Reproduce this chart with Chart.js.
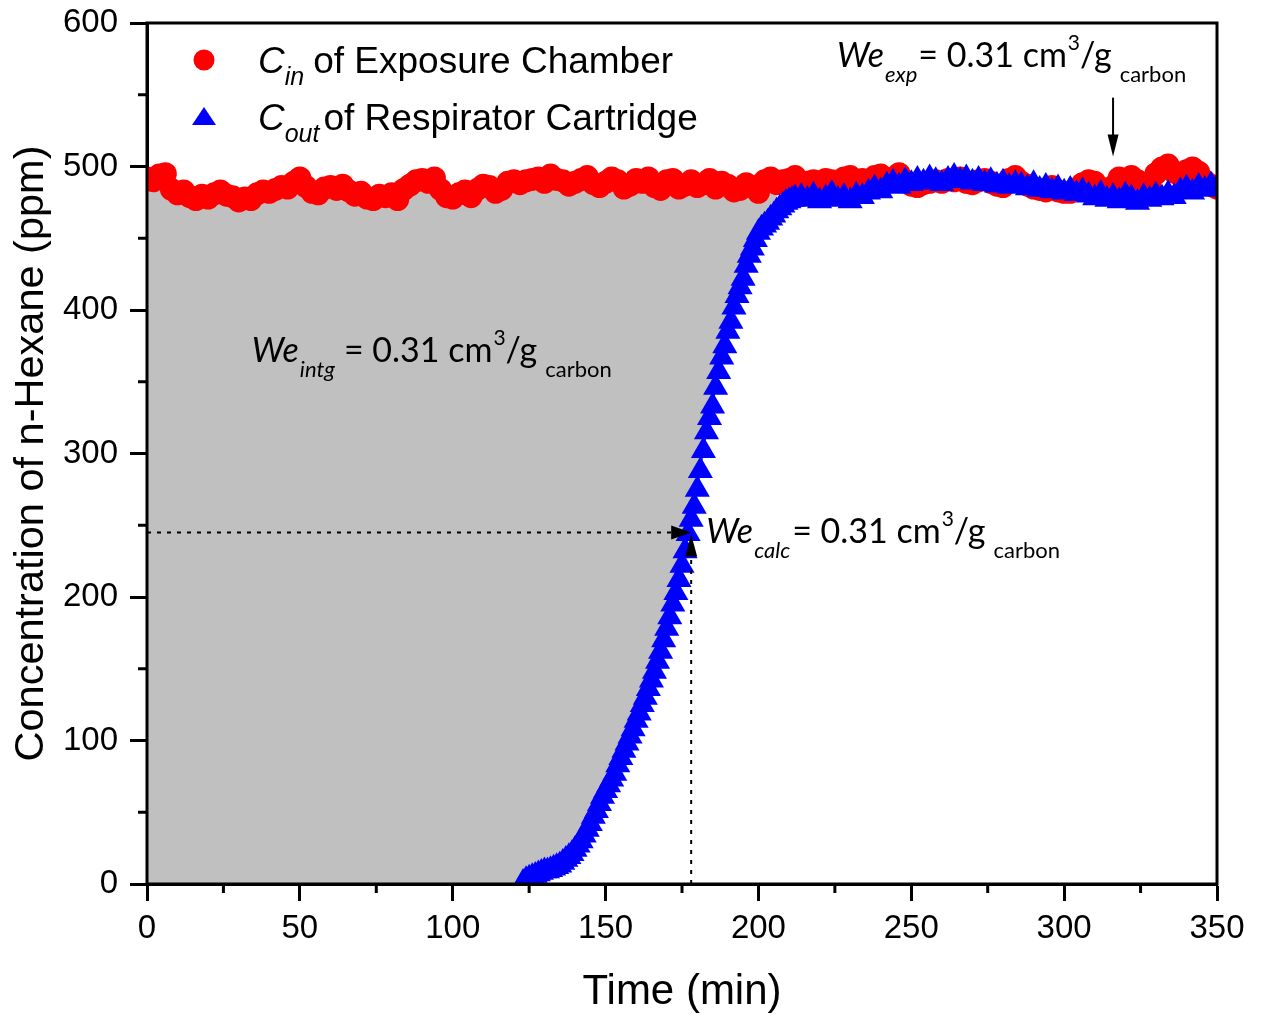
<!DOCTYPE html>
<html>
<head>
<meta charset="utf-8">
<script src="https://cdn.jsdelivr.net/npm/chart.js@4/dist/chart.umd.min.js"></script>
<style>
  html, body { margin: 0; padding: 0; background: #fff; }
  #wrap { width: 1262px; height: 1014px; }
</style>
</head>
<body>
<div id="wrap"><canvas id="c" width="1262" height="1014"></canvas></div>
<script>
// ---------------- DATA ----------------
// C_in of exposure chamber, sampled every 2 min from t = 0
const cinStart = 0, cinStep = 2;
const cinValues = [
  492, 490, 494, 495, 484, 481, 483, 479, 477, 480, 478,
  481, 483, 480, 479, 476, 478, 477, 481, 483, 482,
  484, 486, 485, 489, 492, 486, 482, 481, 485, 486,
  484, 487, 483, 480, 482, 478, 477, 480, 479, 481,
  477, 484, 487, 490, 491, 489, 492, 484, 479, 478,
  481, 483, 479, 484, 487, 486, 482, 484, 489, 490,
  488, 490, 491, 492, 489, 494, 491, 490, 487, 489,
  491, 493, 488, 486, 489, 492, 490, 485, 487, 491,
  489, 492, 486, 484, 490, 491, 485, 487, 490, 486,
  488, 491, 485, 489, 487, 483, 484, 488, 486, 482,
  490, 492, 488, 490, 491, 493, 487, 489, 490, 488,
  491, 490, 489, 492, 493, 490, 491, 489, 493, 494,
  491, 492, 495, 490, 487, 486, 488, 489, 490, 489,
  491, 490, 492, 489, 488, 490, 491, 489, 487, 486,
  491, 493, 489, 487, 485, 484, 483, 486, 483, 482,
  482, 484, 488, 490, 489, 485, 484, 486, 492, 491,
  493, 490, 487, 488, 495, 499, 501, 496, 494, 497,
  499, 496, 490, 487, 485
];
// C_out of respirator cartridge: breakthrough (1-min steps from 123 min)
const coutRiseStart = 123, coutRiseStep = 1;
const coutRise = [
  1, 3, 4, 5, 6, 7, 8, 9, 9, 10,
  11, 12, 13, 15, 17, 19, 21, 24, 27, 30,
  34, 38, 42, 47, 51, 56, 61, 65, 69, 73,
  77, 83, 88, 93, 98, 103, 108, 114, 119, 125,
  130, 136, 142, 148, 155, 162, 170, 178, 186, 195,
  203, 212, 222, 232, 244, 254, 263, 275, 288, 302,
  315, 325, 333, 346, 357, 367, 375, 385, 392, 402,
  410, 416, 422, 431, 438, 443, 449, 454, 457, 459,
  461, 464, 466, 469, 471, 473, 475, 476, 477, 478
];
// C_out plateau (2-min steps from 214 min)
const coutPlateauStart = 214, coutPlateauStep = 2;
const coutPlateau = [
  479, 477, 480, 476, 478, 481, 477, 479, 476, 480,
  479, 482, 485, 483, 487, 489, 486, 490, 488, 491,
  489, 492, 490, 488, 491, 493, 490, 492, 489, 491,
  488, 490, 487, 489, 486, 488, 487, 485, 488, 484,
  486, 483, 485, 482, 484, 481, 483, 480, 478, 481,
  477, 479, 476, 480, 478, 475, 479, 477, 480, 478,
  481, 479, 483, 485, 482, 486, 484, 487, 485
];
// shaded (integrated) area ends where C_out reaches C_in
const shadeEndTime = 206;
// calculated breakthrough point and experimental marker
const calcPoint = { t: 178, v: 245 };
const expArrow = { t: 316, vFrom: 548, vTo: 507 };

const xTickValues = [0, 50, 100, 150, 200, 250, 300, 350];
const yTickValues = [0, 100, 200, 300, 400, 500, 600];
const xMinorTicks = [25, 75, 125, 175, 225, 275, 325];
const yMinorTicks = [50, 150, 250, 350, 450, 550];

const legendLabels = [
  { main: 'C', sub: 'in', rest: 'of Exposure Chamber' },
  { main: 'C', sub: 'out', rest: 'of Respirator Cartridge' }
];
const weValue = '= 0.31 cm';
const weNotes = [
  { sub: 'exp',  t: 225.7, v: 569.5, gap: 1 },
  { sub: 'intg', t: 34.3,  v: 363.5, gap: 9 },
  { sub: 'calc', t: 182.9, v: 237.5, gap: 2 }
];

// ---------------- BUILD POINTS ----------------
const cinPts = cinValues.map((v, i) => ({ x: cinStart + i * cinStep, y: v }));
const coutPts = coutRise.map((v, i) => ({ x: coutRiseStart + i * coutRiseStep, y: v }))
  .concat(coutPlateau.map((v, i) => ({ x: coutPlateauStart + i * coutPlateauStep, y: v })));
const shadePts = cinPts.filter(p => p.x <= shadeEndTime);

const AXIS_FONT = 'Liberation Sans, Arial, sans-serif';
const NOTE_FONT = 'Lato, "Open Sans", sans-serif';

function rich(ctx, x, y, parts) {
  let cx = x;
  for (const p of parts) {
    ctx.font = p.font;
    cx += p.gap || 0;
    ctx.fillText(p.text, cx, y + (p.dy || 0));
    cx += ctx.measureText(p.text).width;
  }
}
function arrowHead(ctx, tipX, tipY, dx, dy, len, wid) {
  const bx = tipX - dx * len, by = tipY - dy * len;
  const px = -dy, py = dx;
  ctx.beginPath();
  ctx.moveTo(tipX, tipY);
  ctx.lineTo(bx + px * wid / 2, by + py * wid / 2);
  ctx.lineTo(bx - px * wid / 2, by - py * wid / 2);
  ctx.closePath();
  ctx.fill();
}

const overlay = {
  id: 'overlay',
  afterDatasetsDraw(chart) {
    const { ctx, chartArea: a, scales: { x, y } } = chart;
    ctx.save();
    ctx.fillStyle = '#000';
    ctx.strokeStyle = '#000';
    // dotted guide lines to calculated point
    const cx = x.getPixelForValue(calcPoint.t), cy = y.getPixelForValue(calcPoint.v);
    ctx.lineWidth = 2;
    ctx.setLineDash([4, 6]);
    ctx.beginPath();
    ctx.moveTo(a.left, cy); ctx.lineTo(cx - 14, cy);
    ctx.moveTo(cx, a.bottom); ctx.lineTo(cx, cy + 18);
    ctx.stroke();
    ctx.setLineDash([]);
    arrowHead(ctx, cx, cy, 1, 0, 20, 14);
    arrowHead(ctx, cx, cy + 2, 0, -1, 22, 12);
    // experimental arrow
    const ex = x.getPixelForValue(expArrow.t);
    const ey1 = y.getPixelForValue(expArrow.vFrom), ey2 = y.getPixelForValue(expArrow.vTo);
    ctx.lineWidth = 2;
    ctx.beginPath(); ctx.moveTo(ex, ey1); ctx.lineTo(ex, ey2 - 18); ctx.stroke();
    arrowHead(ctx, ex, ey2, 0, 1, 22, 11);

    // frame
    ctx.lineWidth = 3;
    ctx.strokeRect(a.left, a.top, a.right - a.left, a.bottom - a.top);
    // minor ticks
    ctx.beginPath();
    xMinorTicks.forEach(t => { const px = x.getPixelForValue(t); ctx.moveTo(px, a.bottom); ctx.lineTo(px, a.bottom + 9); });
    yMinorTicks.forEach(v => { const py = y.getPixelForValue(v); ctx.moveTo(a.left, py); ctx.lineTo(a.left - 9, py); });
    ctx.stroke();

    // We annotations
    ctx.textBaseline = 'alphabetic';
    ctx.textAlign = 'left';
    weNotes.forEach(n => {
      const px = x.getPixelForValue(n.t), py = y.getPixelForValue(n.v);
      rich(ctx, px, py, [
        { text: 'We', font: 'italic 34px ' + NOTE_FONT },
        { text: n.sub, font: 'italic 22px ' + NOTE_FONT, dy: 15, gap: 1 },
        { text: weValue, font: '34px ' + NOTE_FONT, gap: n.gap },
        { text: '3', font: '21px ' + NOTE_FONT, dy: -17, gap: 1 },
        { text: '/g', font: '34px ' + NOTE_FONT },
        { text: 'carbon', font: '22px ' + NOTE_FONT, dy: 15, gap: 8 }
      ]);
    });

    // legend
    const ds = chart.data.datasets;
    const lx = 204;
    const rows = [60, 117];
    legendLabels.forEach((L, i) => {
      const d = ds[i === 0 ? 2 : 3];
      const my = rows[i];
      ctx.fillStyle = d.pointBackgroundColor;
      ctx.beginPath();
      if (i === 0) {
        ctx.arc(lx, my, 10.5, 0, Math.PI * 2);
      } else {
        ctx.moveTo(lx, my - 10); ctx.lineTo(lx + 12, my + 8); ctx.lineTo(lx - 12, my + 8); ctx.closePath();
      }
      ctx.fill();
      ctx.fillStyle = '#000';
      rich(ctx, 258, my + 13, [
        { text: L.main, font: 'italic 37px ' + AXIS_FONT },
        { text: L.sub, font: 'italic 25px ' + AXIS_FONT, dy: 12 },
        { text: L.rest, font: '37px ' + AXIS_FONT, gap: i === 0 ? 9 : 4 }
      ]);
    });
    ctx.restore();
  }
};

new Chart(document.getElementById('c'), {
  type: 'line',
  data: {
    datasets: [
      { label: 'shade', data: shadePts, order: 5, pointRadius: 0, borderWidth: 0,
        fill: 'origin', backgroundColor: '#C0C0C0', clip: 0, tension: 0 },
      { label: 'under', data: coutPts, order: 4, pointRadius: 0, borderWidth: 0,
        fill: 'origin', backgroundColor: '#FFFFFF', clip: 0 },
      { label: 'Cin of Exposure Chamber', data: cinPts, order: 2, showLine: false,
        pointStyle: 'circle', pointRadius: 11.5, pointBackgroundColor: '#FF0000',
        pointBorderWidth: 0, pointBorderColor: '#FF0000', clip: 0 },
      { label: 'Cout of Respirator Cartridge', data: coutPts, order: 1, showLine: true,
        borderColor: '#000', borderWidth: 1, fill: false,
        pointStyle: 'triangle', pointRadius: 14.5, pointBackgroundColor: '#0000FF',
        pointBorderWidth: 0, pointBorderColor: '#0000FF', clip: 0 }
    ]
  },
  options: {
    responsive: false,
    animation: false,
    devicePixelRatio: 1,
    layout: { padding: { left: 0, top: 23, right: 45, bottom: 0 } },
    plugins: { legend: { display: false }, tooltip: { enabled: false } },
    elements: { point: { hoverRadius: 0 } },
    scales: {
      x: {
        type: 'linear', min: 0, max: 350,
        afterBuildTicks: s => { s.ticks = xTickValues.map(v => ({ value: v })); },
        afterFit: s => { s.height = 130; s.paddingLeft = 0; s.paddingRight = 0; },
        grid: { drawOnChartArea: false, drawTicks: true, tickLength: 17, tickWidth: 3, tickColor: '#000' },
        border: { display: true, width: 3, color: '#000' },
        ticks: { color: '#000', font: { family: AXIS_FONT, size: 33 }, padding: 8, maxRotation: 0, autoSkip: false },
        title: { display: true, text: 'Time (min)', color: '#000',
                 font: { family: AXIS_FONT, size: 42 }, padding: { top: 0, bottom: -4 } }
      },
      y: {
        type: 'linear', min: 0, max: 600,
        afterBuildTicks: s => { s.ticks = yTickValues.map(v => ({ value: v })); },
        afterFit: s => { s.width = 147; s.paddingTop = 0; s.paddingBottom = 0; },
        grid: { drawOnChartArea: false, drawTicks: true, tickLength: 17, tickWidth: 3, tickColor: '#000' },
        border: { display: true, width: 3, color: '#000' },
        ticks: { color: '#000', font: { family: AXIS_FONT, size: 33 }, padding: 12, autoSkip: false },
        title: { display: true, text: 'Concentration of n-Hexane (ppm)', color: '#000',
                 font: { family: AXIS_FONT, size: 41.5 }, padding: { top: 7, bottom: 0 } }
      }
    }
  },
  plugins: [overlay]
});
</script>
</body>
</html>
